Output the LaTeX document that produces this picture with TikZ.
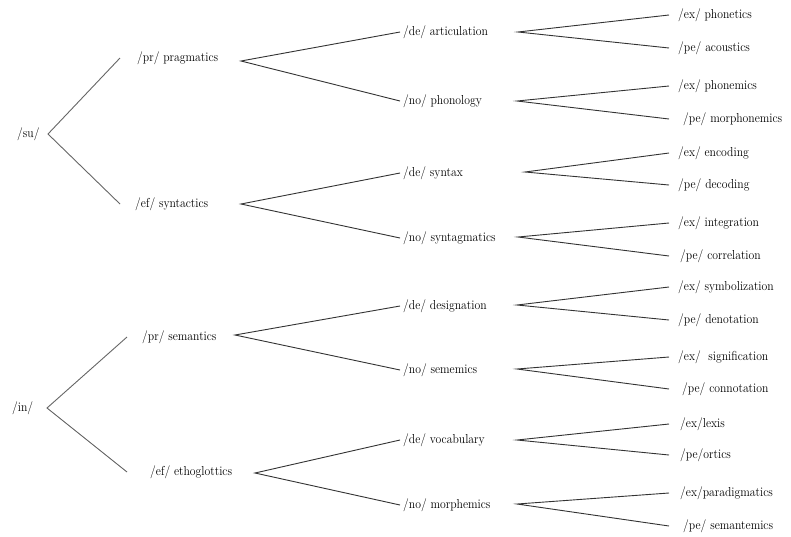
\documentclass[tikz,border=0pt]{standalone}
\usepackage{graphicx}
\newcommand{\lbltext}[1]{\scalebox{0.9}[1]{#1}}
\begin{document}
\begin{tikzpicture}[x=1pt,y=1pt,
  lbl/.style={anchor=west,inner ysep=0pt,font=\fontsize{13}{14}\selectfont,text=black},
  edge/.style={draw=black!80,line width=0.9pt},
  edgel/.style={draw=black!60,line width=0.9pt}]
\useasboundingbox[fill=white] (0,0) rectangle (791,-536);
% level 1
\node[lbl,inner xsep=0pt] (su) at (17,-134) {\lbltext{/su/}};
\node[lbl,inner xsep=0pt] (in) at (12,-408) {\lbltext{/in/}};
\coordinate (su-a) at (48,-134);
\coordinate (in-a) at (47,-408);
% level 2
\node[lbl,inner xsep=17pt] (pr1) at (120,-58) {\lbltext{/pr/ pragmatics}};
\node[lbl,inner xsep=15pt] (ef1) at (120,-204) {\lbltext{/ef/ syntactics}};
\node[lbl,inner xsep=15pt] (pr2) at (127,-337) {\lbltext{/pr/ semantics}};
\node[lbl,inner xsep=23pt] (ef2) at (127,-472) {\lbltext{/ef/ ethoglottics}};
\coordinate (pr1-a) at (241,-61);
\coordinate (ef1-a) at (241,-204);
\coordinate (pr2-a) at (235,-335);
\coordinate (ef2-a) at (255,-473);
% level 3
\node[lbl,inner xsep=3pt] (de1) at (400,-32) {\lbltext{/de/ articulation}};
\node[lbl,inner xsep=3pt] (no1) at (400,-101) {\lbltext{/no/ phonology}};
\node[lbl,inner xsep=3pt] (de2) at (400,-173) {\lbltext{/de/ syntax}};
\node[lbl,inner xsep=3pt] (no2) at (400,-238) {\lbltext{/no/ syntagmatics}};
\node[lbl,inner xsep=3pt] (de3) at (400,-306) {\lbltext{/de/ designation}};
\node[lbl,inner xsep=3pt] (no3) at (400,-370) {\lbltext{/no/ sememics}};
\node[lbl,inner xsep=3pt] (de4) at (400,-440) {\lbltext{/de/ vocabulary}};
\node[lbl,inner xsep=3pt] (no4) at (400,-505) {\lbltext{/no/ morphemics}};
\coordinate (de1-a) at (518,-32);
\coordinate (no1-a) at (517,-101);
\coordinate (de2-a) at (525,-172);
\coordinate (no2-a) at (518,-237);
\coordinate (de3-a) at (517,-305);
\coordinate (no3-a) at (517,-369);
\coordinate (de4-a) at (517,-440);
\coordinate (no4-a) at (517,-504);
% level 4
\node[lbl,inner xsep=9pt] (l1) at (669,-15) {\lbltext{/ex/ phonetics}};
\node[lbl,inner xsep=9pt] (l2) at (669,-48) {\lbltext{/pe/ acoustics}};
\node[lbl,inner xsep=9pt] (l3) at (669,-86) {\lbltext{/ex/ phonemics}};
\node[lbl,inner xsep=14pt] (l4) at (669,-119) {\lbltext{/pe/ morphonemics}};
\node[lbl,inner xsep=9pt] (l5) at (669,-153) {\lbltext{/ex/ encoding}};
\node[lbl,inner xsep=9pt] (l6) at (669,-185) {\lbltext{/pe/ decoding}};
\node[lbl,inner xsep=9pt] (l7) at (669,-223) {\lbltext{/ex/ integration}};
\node[lbl,inner xsep=11pt] (l8) at (669,-256) {\lbltext{/pe/ correlation}};
\node[lbl,inner xsep=9pt] (l9) at (669,-287) {\lbltext{/ex/ symbolization}};
\node[lbl,inner xsep=9pt] (l10) at (669,-320) {\lbltext{/pe/ denotation}};
\node[lbl,inner xsep=9pt] (l11) at (669,-357) {\lbltext{/ex/ \ signification}};
\node[lbl,inner xsep=13pt] (l12) at (669,-389) {\lbltext{/pe/ connotation}};
\node[lbl,inner xsep=11pt] (l13) at (669,-424) {\lbltext{/ex/lexis}};
\node[lbl,inner xsep=11pt] (l14) at (669,-455) {\lbltext{/pe/ortics}};
\node[lbl,inner xsep=11pt] (l15) at (669,-493) {\lbltext{/ex/paradigmatics}};
\node[lbl,inner xsep=14pt] (l16) at (669,-526) {\lbltext{/pe/ semantemics}};
% connectors
\draw[edgel] (pr1.west) -- (su-a) -- (ef1.west);
\draw[edgel] (pr2.west) -- (in-a) -- (ef2.west);
\draw[edge] (de1.west) -- (pr1-a) -- (no1.west);
\draw[edge] (de2.west) -- (ef1-a) -- (no2.west);
\draw[edge] (de3.west) -- (pr2-a) -- (no3.west);
\draw[edge] (de4.west) -- (ef2-a) -- (no4.west);
\draw[edge] (l1.west) -- (de1-a) -- (l2.west);
\draw[edge] (l3.west) -- (no1-a) -- (l4.west);
\draw[edge] (l5.west) -- (de2-a) -- (l6.west);
\draw[edge] (l7.west) -- (no2-a) -- (l8.west);
\draw[edge] (l9.west) -- (de3-a) -- (l10.west);
\draw[edge] (l11.west) -- (no3-a) -- (l12.west);
\draw[edge] (l13.west) -- (de4-a) -- (l14.west);
\draw[edge] (l15.west) -- (no4-a) -- (l16.west);
\end{tikzpicture}
\end{document}
